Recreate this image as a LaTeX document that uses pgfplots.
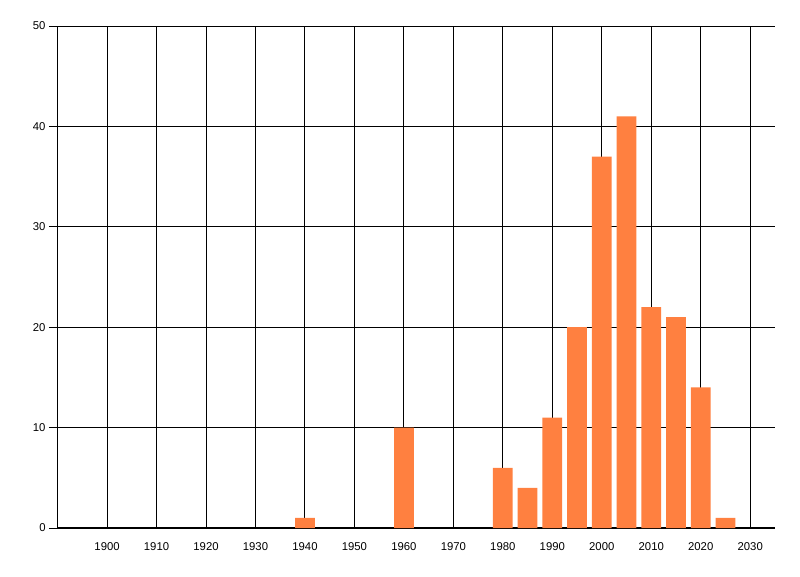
\documentclass[border=0pt]{standalone}
\usepackage{fontspec}
\setmainfont{Liberation Sans}
\usepackage{pgfplots}
\pgfplotsset{compat=1.18}
\definecolor{barorange}{RGB}{255,128,64}
\begin{document}
\begin{tikzpicture}
\path[use as bounding box, fill=white] (0,0) rectangle (600pt,432pt);
\begin{axis}[
    at={(43.2pt,36pt)}, anchor=south west,
    scale only axis,
    width=538pt, height=376.5pt,
    xmin=1890, xmax=2035, ymin=0, ymax=50,
    xtick={1900,1910,...,2030},
    ytick={0,10,...,50},
    axis x line*=bottom, axis y line*=left,
    axis line style={black, line width=0.8pt, -},
    grid=major,
    major grid style={black, line width=0.75pt},
    major x tick style={draw=none},
    major y tick style={black, line width=0.75pt},
    tick align=outside,
    major tick length=6.5pt,
    tick label style={font=\fontsize{8.5}{10}\selectfont},
    /pgf/number format/assume math mode=true,
    /pgf/number format/1000 sep={},
    xticklabel style={yshift=-1pt},
    yticklabel style={xshift=1pt},
    clip=false,
]
\addplot[ybar, bar width=4, fill=barorange, draw=none] coordinates {
    (1940,1) (1960,10) (1980,6) (1985,4) (1990,11) (1995,20)
    (2000,37) (2005,41) (2010,22) (2015,21) (2020,14) (2025,1)
};
\end{axis}
\end{tikzpicture}
\end{document}
